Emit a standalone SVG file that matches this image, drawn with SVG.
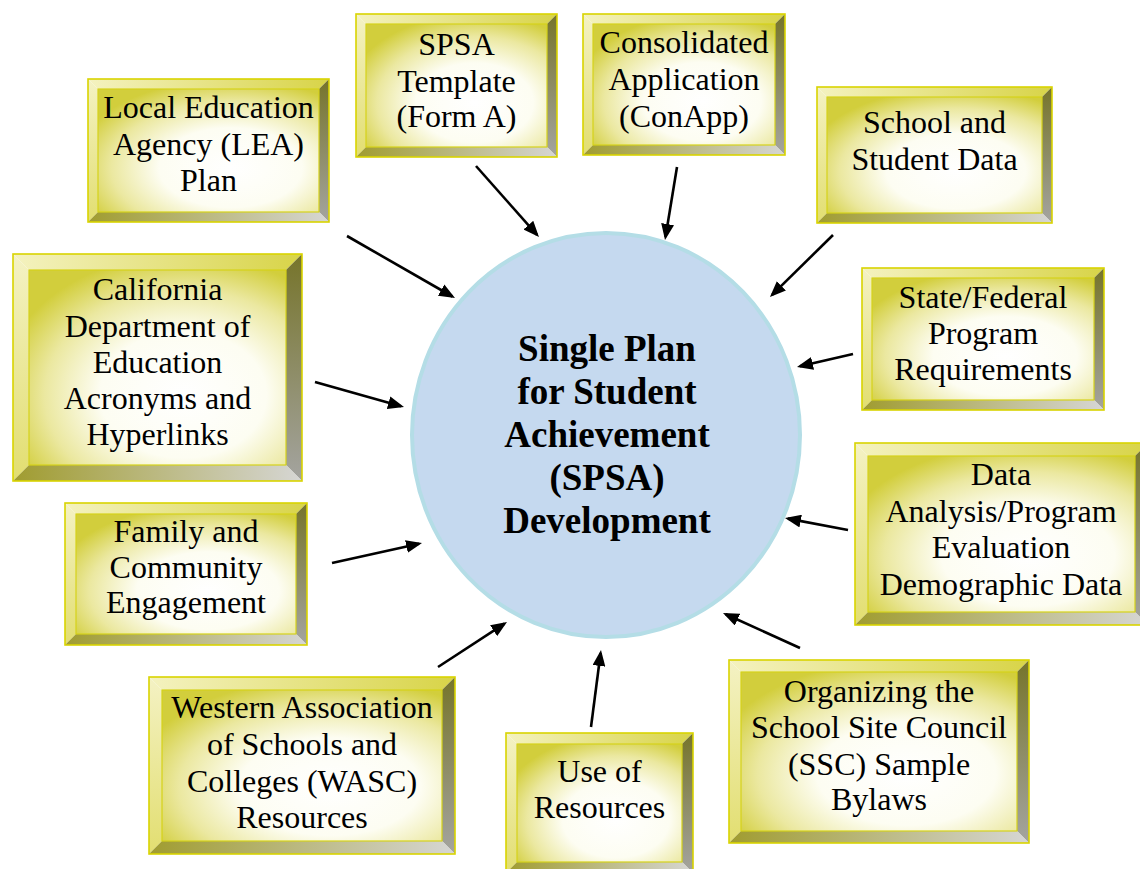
<svg xmlns="http://www.w3.org/2000/svg" width="1140" height="869" viewBox="0 0 1140 869">
  <defs>
    <style>
      .face { fill: url(#gFace); stroke: #d6d21a; stroke-width: 1.2; }
      .bt { fill: url(#gTop); }
      .bl { fill: url(#gLeft); }
      .br { fill: url(#gRight); }
      .bb { fill: url(#gBottom); }
      .rim { fill: none; stroke: #d9d400; stroke-width: 1.6; }
      .lbl { font-family: "Liberation Serif", "Times New Roman", serif; font-size: 32px; fill: #000; text-anchor: middle; }
      .hub { font-family: "Liberation Serif", "Times New Roman", serif; font-size: 37px; font-weight: bold; fill: #000; text-anchor: middle; }
      .arrow { stroke: #000; stroke-width: 2.6; fill: none; marker-end: url(#head); }
    </style>
    <radialGradient id="gFace" cx="0.6" cy="0.64" r="0.72">
      <stop offset="0" stop-color="#ffffff"/>
      <stop offset="0.45" stop-color="#fdfdf2"/>
      <stop offset="0.75" stop-color="#ebe8a0"/>
      <stop offset="1" stop-color="#d2ce3c"/>
    </radialGradient>
    <linearGradient id="gTop" x1="0" y1="0" x2="1" y2="0">
      <stop offset="0" stop-color="#f4f2c0"/>
      <stop offset="1" stop-color="#d8d448"/>
    </linearGradient>
    <linearGradient id="gLeft" x1="0" y1="0" x2="0" y2="1">
      <stop offset="0" stop-color="#f4f2c4"/>
      <stop offset="1" stop-color="#e2de70"/>
    </linearGradient>
    <linearGradient id="gRight" x1="0" y1="0" x2="0" y2="1">
      <stop offset="0" stop-color="#76742a"/>
      <stop offset="1" stop-color="#a4a4a0"/>
    </linearGradient>
    <linearGradient id="gBottom" x1="0" y1="0" x2="1" y2="0">
      <stop offset="0" stop-color="#a09c30"/>
      <stop offset="1" stop-color="#d6d6d4"/>
    </linearGradient>
    <marker id="head" markerUnits="userSpaceOnUse" markerWidth="16" markerHeight="13" refX="13" refY="6.5" orient="auto">
      <path d="M0,0 L16,6.5 L0,13 Z" fill="#000"/>
    </marker>
  </defs>

  <!-- centre hub -->
  <g id="hub">
    <ellipse cx="606" cy="435" rx="194" ry="202" fill="#c5d9ef" stroke="#b4dde6" stroke-width="4"/>
    <text class="hub" x="607" y="361">Single Plan</text>
    <text class="hub" x="607" y="404">for Student</text>
    <text class="hub" x="607" y="447">Achievement</text>
    <text class="hub" x="607" y="490">(SPSA)</text>
    <text class="hub" x="607" y="533">Development</text>
  </g>

  <!-- connectors -->
  <g id="connectors">
    <line class="arrow" x1="347" y1="236" x2="452.4" y2="296.5"/>
    <line class="arrow" x1="476" y1="166" x2="537.0" y2="234.8"/>
    <line class="arrow" x1="677" y1="167" x2="665.5" y2="237.0"/>
    <line class="arrow" x1="833" y1="235" x2="772.1" y2="294.9"/>
    <line class="arrow" x1="853" y1="354" x2="799.9" y2="366.3"/>
    <line class="arrow" x1="848" y1="530" x2="787.9" y2="518.6"/>
    <line class="arrow" x1="800" y1="648" x2="725.7" y2="614.2"/>
    <line class="arrow" x1="591" y1="727" x2="600.6" y2="653.0"/>
    <line class="arrow" x1="438" y1="667" x2="504.5" y2="623.6"/>
    <line class="arrow" x1="332" y1="563" x2="419.1" y2="543.7"/>
    <line class="arrow" x1="315" y1="382" x2="401.1" y2="406.2"/>
  </g>

  <!-- bevelled source boxes: outer x,y,w,h with bevel b -->
  <g id="lea">
    <polygon class="bt" points="88,79 329,79 319,89 98,89"/>
    <polygon class="bl" points="88,79 98,89 98,212 88,222"/>
    <polygon class="br" points="329,79 329,222 319,212 319,89"/>
    <polygon class="bb" points="88,222 98,212 319,212 329,222"/>
    <rect class="face" x="98" y="89" width="221" height="123"/>
    <rect class="rim" x="88" y="79" width="241" height="143"/>
    <text class="lbl" x="208.5" y="118">Local Education</text>
    <text class="lbl" x="208.5" y="155">Agency (LEA)</text>
    <text class="lbl" x="208.5" y="191">Plan</text>
  </g>

  <g id="spsa-template">
    <polygon class="bt" points="356,14 557,14 547,24 366,24"/>
    <polygon class="bl" points="356,14 366,24 366,147 356,157"/>
    <polygon class="br" points="557,14 557,157 547,147 547,24"/>
    <polygon class="bb" points="356,157 366,147 547,147 557,157"/>
    <rect class="face" x="366" y="24" width="181" height="123"/>
    <rect class="rim" x="356" y="14" width="201" height="143"/>
    <text class="lbl" x="456.5" y="55">SPSA</text>
    <text class="lbl" x="456.5" y="92">Template</text>
    <text class="lbl" x="456.5" y="127">(Form A)</text>
  </g>

  <g id="conapp">
    <polygon class="bt" points="583,14 785,14 775,24 593,24"/>
    <polygon class="bl" points="583,14 593,24 593,145 583,155"/>
    <polygon class="br" points="785,14 785,155 775,145 775,24"/>
    <polygon class="bb" points="583,155 593,145 775,145 785,155"/>
    <rect class="face" x="593" y="24" width="182" height="121"/>
    <rect class="rim" x="583" y="14" width="202" height="141"/>
    <text class="lbl" x="684" y="53">Consolidated</text>
    <text class="lbl" x="684" y="90">Application</text>
    <text class="lbl" x="684" y="127">(ConApp)</text>
  </g>

  <g id="school-data">
    <polygon class="bt" points="817,87 1052,87 1042,97 827,97"/>
    <polygon class="bl" points="817,87 827,97 827,213 817,223"/>
    <polygon class="br" points="1052,87 1052,223 1042,213 1042,97"/>
    <polygon class="bb" points="817,223 827,213 1042,213 1052,223"/>
    <rect class="face" x="827" y="97" width="215" height="116"/>
    <rect class="rim" x="817" y="87" width="235" height="136"/>
    <text class="lbl" x="934.5" y="133">School and</text>
    <text class="lbl" x="934.5" y="170">Student Data</text>
  </g>

  <g id="state-federal">
    <polygon class="bt" points="862,268 1104,268 1094,278 872,278"/>
    <polygon class="bl" points="862,268 872,278 872,400 862,410"/>
    <polygon class="br" points="1104,268 1104,410 1094,400 1094,278"/>
    <polygon class="bb" points="862,410 872,400 1094,400 1104,410"/>
    <rect class="face" x="872" y="278" width="222" height="122"/>
    <rect class="rim" x="862" y="268" width="242" height="142"/>
    <text class="lbl" x="983" y="308">State/Federal</text>
    <text class="lbl" x="983" y="344">Program</text>
    <text class="lbl" x="983" y="380">Requirements</text>
  </g>

  <g id="data-analysis">
    <polygon class="bt" points="855,443 1148,443 1135,456 868,456"/>
    <polygon class="bl" points="855,443 868,456 868,612 855,625"/>
    <polygon class="br" points="1148,443 1148,625 1135,612 1135,456"/>
    <polygon class="bb" points="855,625 868,612 1135,612 1148,625"/>
    <rect class="face" x="868" y="456" width="267" height="156"/>
    <rect class="rim" x="855" y="443" width="293" height="182"/>
    <text class="lbl" x="1001" y="485">Data</text>
    <text class="lbl" x="1001" y="522">Analysis/Program</text>
    <text class="lbl" x="1001" y="558">Evaluation</text>
    <text class="lbl" x="1001" y="595">Demographic Data</text>
  </g>

  <g id="ssc-bylaws">
    <polygon class="bt" points="729,660 1029,660 1017,672 741,672"/>
    <polygon class="bl" points="729,660 741,672 741,831 729,843"/>
    <polygon class="br" points="1029,660 1029,843 1017,831 1017,672"/>
    <polygon class="bb" points="729,843 741,831 1017,831 1029,843"/>
    <rect class="face" x="741" y="672" width="276" height="159"/>
    <rect class="rim" x="729" y="660" width="300" height="183"/>
    <text class="lbl" x="879" y="702">Organizing the</text>
    <text class="lbl" x="879" y="738">School Site Council</text>
    <text class="lbl" x="879" y="775">(SSC) Sample</text>
    <text class="lbl" x="879" y="810">Bylaws</text>
  </g>

  <g id="resources">
    <polygon class="bt" points="506,733 693,733 682,744 517,744"/>
    <polygon class="bl" points="506,733 517,744 517,862 506,873"/>
    <polygon class="br" points="693,733 693,873 682,862 682,744"/>
    <polygon class="bb" points="506,873 517,862 682,862 693,873"/>
    <rect class="face" x="517" y="744" width="165" height="118"/>
    <rect class="rim" x="506" y="733" width="187" height="140"/>
    <text class="lbl" x="599.5" y="782">Use of</text>
    <text class="lbl" x="599.5" y="818">Resources</text>
  </g>

  <g id="wasc">
    <polygon class="bt" points="149,677 455,677 442,690 162,690"/>
    <polygon class="bl" points="149,677 162,690 162,841 149,854"/>
    <polygon class="br" points="455,677 455,854 442,841 442,690"/>
    <polygon class="bb" points="149,854 162,841 442,841 455,854"/>
    <rect class="face" x="162" y="690" width="280" height="151"/>
    <rect class="rim" x="149" y="677" width="306" height="177"/>
    <text class="lbl" x="302" y="718">Western Association</text>
    <text class="lbl" x="302" y="755">of Schools and</text>
    <text class="lbl" x="302" y="792">Colleges (WASC)</text>
    <text class="lbl" x="302" y="828">Resources</text>
  </g>

  <g id="family">
    <polygon class="bt" points="65,503 307,503 296,514 76,514"/>
    <polygon class="bl" points="65,503 76,514 76,634 65,645"/>
    <polygon class="br" points="307,503 307,645 296,634 296,514"/>
    <polygon class="bb" points="65,645 76,634 296,634 307,645"/>
    <rect class="face" x="76" y="514" width="220" height="120"/>
    <rect class="rim" x="65" y="503" width="242" height="142"/>
    <text class="lbl" x="186" y="542">Family and</text>
    <text class="lbl" x="186" y="578">Community</text>
    <text class="lbl" x="186" y="613">Engagement</text>
  </g>

  <g id="cde">
    <polygon class="bt" points="13,254 302,254 286,270 29,270"/>
    <polygon class="bl" points="13,254 29,270 29,465 13,481"/>
    <polygon class="br" points="302,254 302,481 286,465 286,270"/>
    <polygon class="bb" points="13,481 29,465 286,465 302,481"/>
    <rect class="face" x="29" y="270" width="257" height="195"/>
    <rect class="rim" x="13" y="254" width="289" height="227"/>
    <text class="lbl" x="157.5" y="300">California</text>
    <text class="lbl" x="157.5" y="337">Department of</text>
    <text class="lbl" x="157.5" y="373">Education</text>
    <text class="lbl" x="157.5" y="409">Acronyms and</text>
    <text class="lbl" x="157.5" y="445">Hyperlinks</text>
  </g>
</svg>
